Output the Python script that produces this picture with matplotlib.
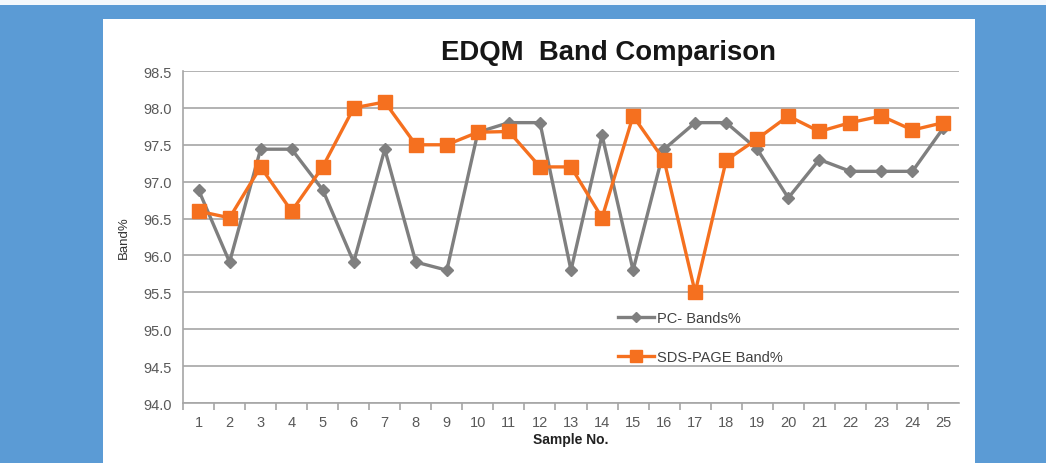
import matplotlib
matplotlib.use("Agg")
import matplotlib.pyplot as plt
from matplotlib.patches import Rectangle

plt.rcParams['font.family'] = ['Liberation Sans', 'DejaVu Sans']

# Sample numbers and band percentages for both methods
samples = list(range(1, 26))
pc_bands = [96.89, 95.91, 97.44, 97.44, 96.89, 95.91, 97.44, 95.91, 95.8, 97.67,
            97.8, 97.8, 95.8, 97.63, 95.8, 97.44, 97.8, 97.8, 97.44, 96.78,
            97.3, 97.14, 97.14, 97.14, 97.73]
sds_page = [96.6, 96.51, 97.2, 96.6, 97.2, 98.0, 98.08, 97.5, 97.5, 97.67,
            97.68, 97.2, 97.2, 96.51, 97.89, 97.29, 95.5, 97.29, 97.58, 97.89,
            97.68, 97.8, 97.89, 97.7, 97.8]
y_ticks = [94.0, 94.5, 95.0, 95.5, 96.0, 96.5, 97.0, 97.5, 98.0, 98.5]

fig = plt.figure(figsize=(10.46, 4.64), dpi=100)
fig.patch.set_facecolor('#5b9bd5')

# white slide panel behind the chart
fig.patches.append(Rectangle((103 / 1046, 0), 872 / 1046, 444 / 464,
                             transform=fig.transFigure, facecolor='white',
                             edgecolor='none', zorder=0))
fig.patches.append(Rectangle((0, 458 / 464), 1, 6 / 464,
                             transform=fig.transFigure, facecolor='#f4f8fc',
                             edgecolor='none', zorder=0))

ax = fig.add_axes([183 / 1046, 60 / 464, 776 / 1046, 332 / 464])
ax.set_zorder(2)
ax.set_facecolor('white')

ax.plot(samples, pc_bands, color='#7f7f7f', linewidth=2.4, marker='D',
        markersize=6.5, label='PC- Bands%', zorder=3)
ax.plot(samples, sds_page, color='#f5701f', linewidth=2.4, marker='s',
        markersize=9.5, label='SDS-PAGE Band%', zorder=4)

ax.set_xlim(0.5, 25.5)
ax.set_ylim(94.0, 98.5)
ax.set_yticks(y_ticks)
ax.set_yticklabels([f"{v:.1f}" for v in y_ticks])
ax.set_xticks(samples)
ax.set_xticks([s + 0.5 for s in range(0, 25)], minor=True)

# horizontal gridlines only
ax.yaxis.grid(True, color='#a6a6a6', linewidth=1.2)
ax.set_axisbelow(True)

for side in ['top', 'right']:
    ax.spines[side].set_visible(False)
ax.spines['left'].set_color('#a6a6a6')
ax.spines['bottom'].set_color('#a6a6a6')
ax.spines['left'].set_linewidth(1.2)
ax.spines['bottom'].set_linewidth(1.2)

ax.tick_params(axis='y', length=0, pad=8, labelsize=10.5, labelcolor='#595959')
ax.tick_params(axis='x', which='major', length=0, pad=9, labelsize=10.5,
               labelcolor='#595959')
ax.tick_params(axis='x', which='minor', length=5, color='#a6a6a6', width=1.2)

ax.set_title('EDQM  Band Comparison', fontsize=19.8, fontweight='bold',
             color='#161616', pad=9, x=0.548)
ax.set_xlabel('Sample No.', fontsize=10, fontweight='bold', color='#222222',
              labelpad=2)
ax.set_ylabel('Band%', fontsize=9.5, color='#333333', labelpad=10)

ax.legend(loc='upper left', bbox_to_anchor=(0.551, 0.30), frameon=False,
          fontsize=10.5, labelcolor='#404040', handlelength=2.5,
          handletextpad=0.2, labelspacing=1.75, borderpad=0, markerscale=0.85)

fig.savefig('out.png', dpi=100, facecolor=fig.get_facecolor())
